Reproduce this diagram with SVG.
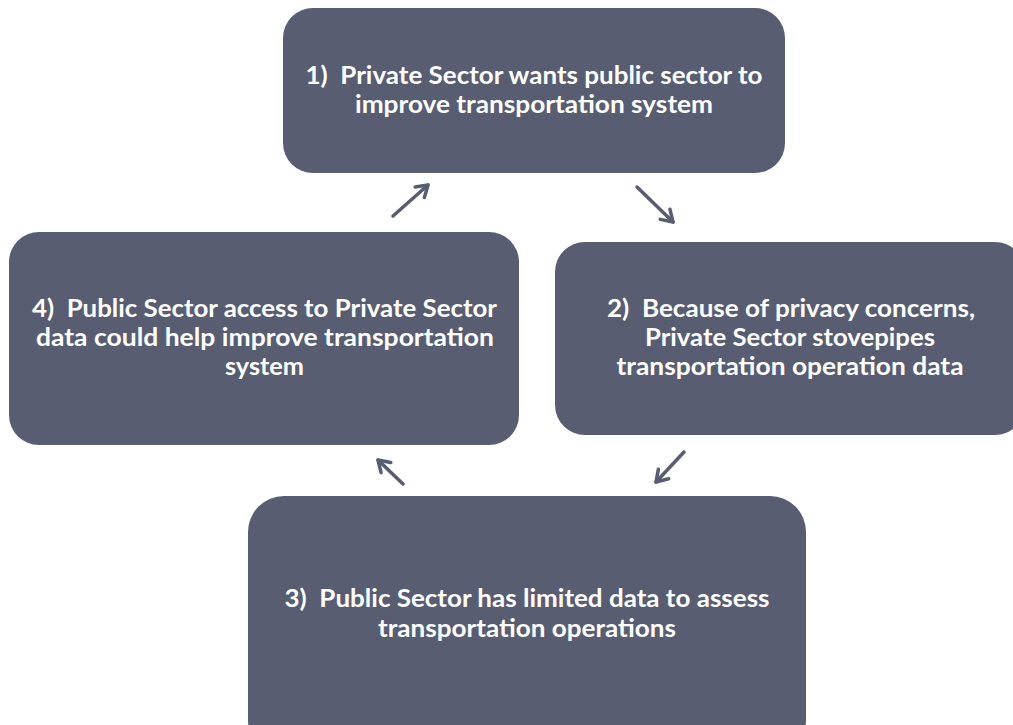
<svg xmlns="http://www.w3.org/2000/svg" width="1013" height="725" viewBox="0 0 1013 725">
  <style>
    .box { fill: #585d72; }
    .lbl { font-family: Lato, "Open Sans", "Liberation Sans", sans-serif; font-weight: bold; font-size: 24px; fill: #ffffff; text-anchor: middle; white-space: pre; }
    .conn { stroke: #585d72; stroke-width: 3.5; fill: none; stroke-linecap: round; }
  </style>
  <defs>
    <marker id="arr" viewBox="0 0 18 18" refX="14.5" refY="9" markerWidth="18" markerHeight="18" markerUnits="userSpaceOnUse" orient="auto">
      <path d="M3.5,2 L14.5,9 L3.5,16" fill="none" stroke="#585d72" stroke-width="3.5" stroke-linecap="round" stroke-linejoin="round"/>
    </marker>
  </defs>
  <rect width="1013" height="725" fill="#ffffff"/>

  <g id="node1">
    <rect class="box" x="283" y="8" width="502" height="165" rx="30" ry="30"/>
    <text class="lbl" x="534" y="84" textLength="457" lengthAdjust="spacingAndGlyphs" xml:space="preserve">1)  Private Sector wants public sector to</text>
    <text class="lbl" x="534" y="113" textLength="358" lengthAdjust="spacingAndGlyphs">improve transportation system</text>
  </g>

  <g id="node2">
    <rect class="box" x="555" y="242" width="470" height="193" rx="30" ry="30"/>
    <text class="lbl" x="791" y="317" textLength="368" lengthAdjust="spacingAndGlyphs" xml:space="preserve">2)  Because of privacy concerns,</text>
    <text class="lbl" x="790" y="346" textLength="290" lengthAdjust="spacingAndGlyphs">Private Sector stovepipes</text>
    <text class="lbl" x="790" y="375" textLength="347" lengthAdjust="spacingAndGlyphs">transportation operation data</text>
  </g>

  <g id="node3">
    <rect class="box" x="248" y="496" width="558" height="260" rx="36" ry="36"/>
    <text class="lbl" x="527" y="607" textLength="485" lengthAdjust="spacingAndGlyphs" xml:space="preserve">3)  Public Sector has limited data to assess</text>
    <text class="lbl" x="527" y="637" textLength="298" lengthAdjust="spacingAndGlyphs">transportation operations</text>
  </g>

  <g id="node4">
    <rect class="box" x="9" y="232" width="510" height="213" rx="30" ry="30"/>
    <text class="lbl" x="264.5" y="317" textLength="465" lengthAdjust="spacingAndGlyphs" xml:space="preserve">4)  Public Sector access to Private Sector</text>
    <text class="lbl" x="265" y="346" textLength="458" lengthAdjust="spacingAndGlyphs">data could help improve transportation</text>
    <text class="lbl" x="264.5" y="375" textLength="79" lengthAdjust="spacingAndGlyphs">system</text>
  </g>

  <g id="connectors">
    <line class="conn" x1="393" y1="216" x2="428" y2="185" marker-end="url(#arr)"/>
    <line class="conn" x1="637" y1="187" x2="673" y2="222" marker-end="url(#arr)"/>
    <line class="conn" x1="684" y1="452" x2="656" y2="482" marker-end="url(#arr)"/>
    <line class="conn" x1="403" y1="484" x2="378" y2="460" marker-end="url(#arr)"/>
  </g>
</svg>
